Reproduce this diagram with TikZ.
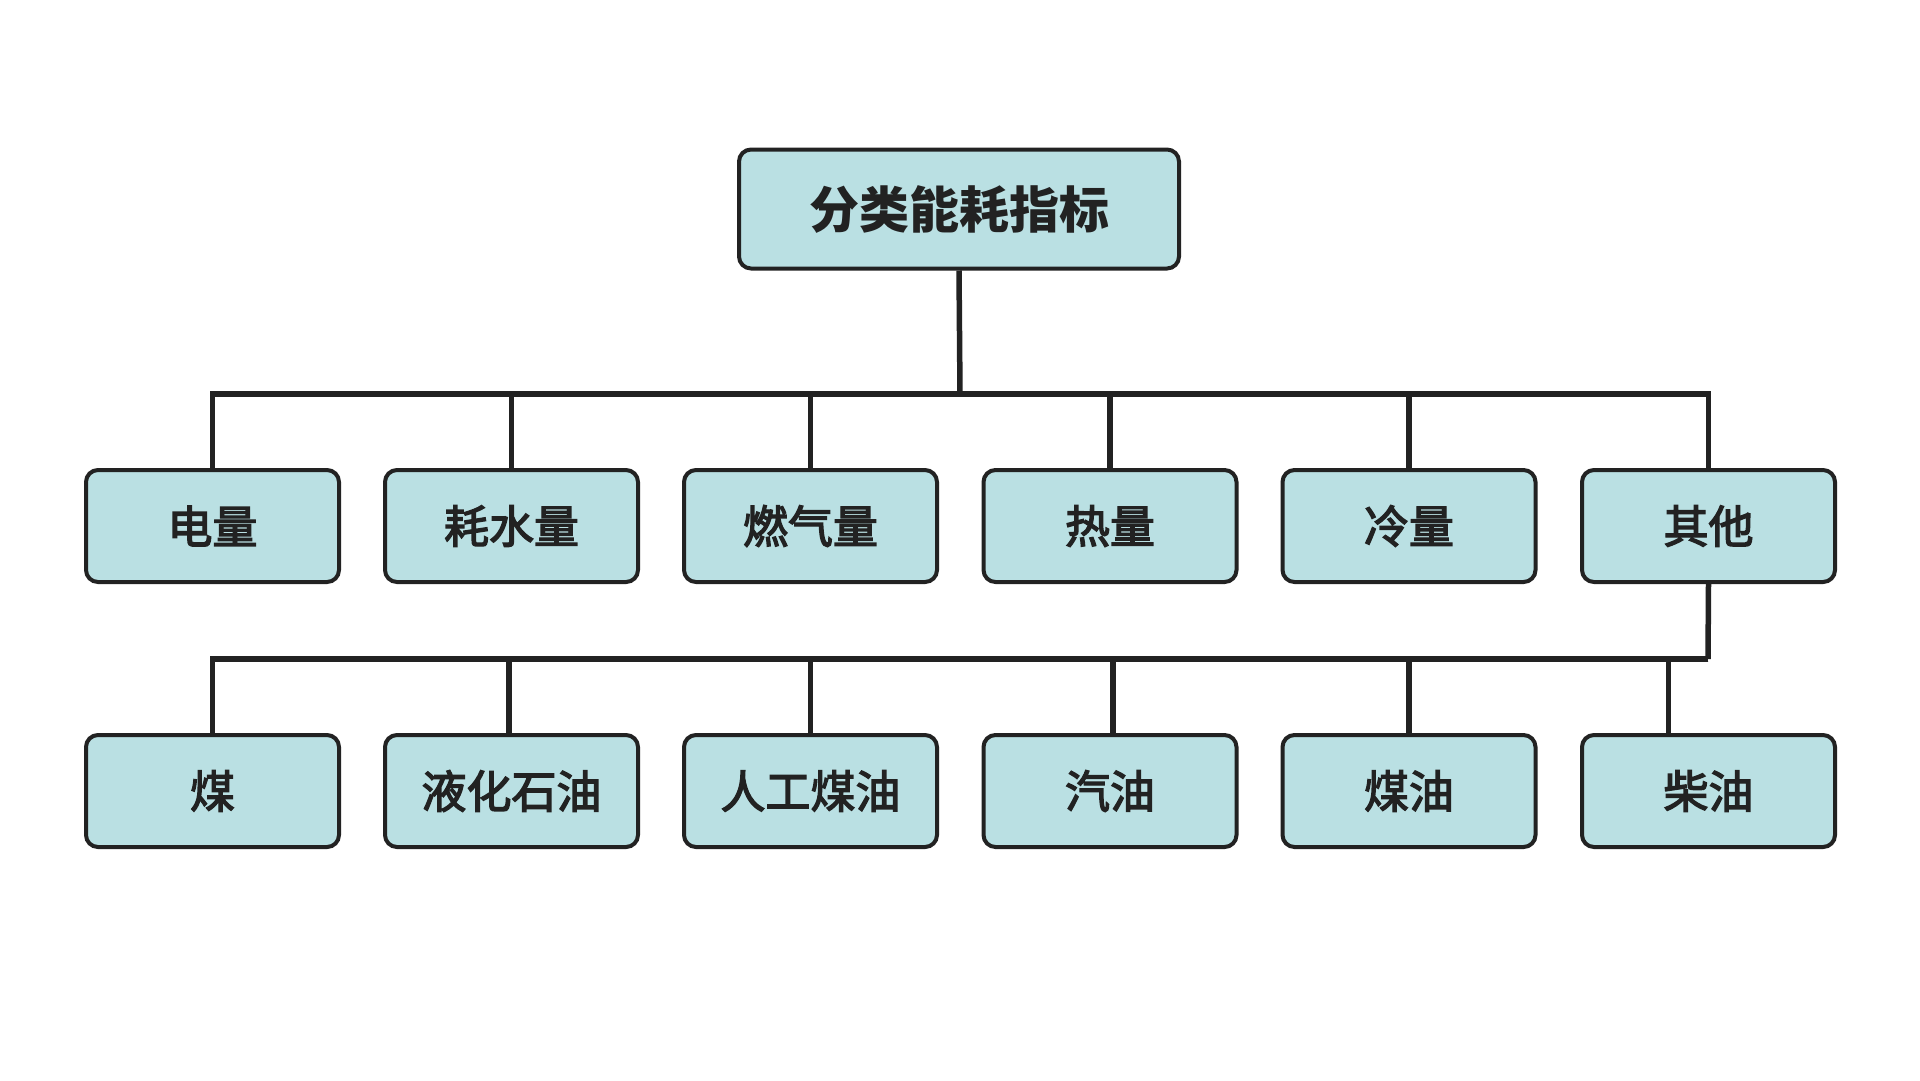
\documentclass[tikz,border=0pt]{standalone}
\usepackage{fontspec}
\newfontfamily\cjk{Noto Sans CJK SC}
\newfontfamily\cjkmid{Noto Sans CJK SC}[FakeBold=3]
\definecolor{boxfill}{HTML}{BAE0E3}
\definecolor{ink}{HTML}{222222}
\tikzset{
  catbox/.style={draw=ink, fill=boxfill, line width=4pt, rounded corners=12pt,
    minimum width=253pt, minimum height=112pt, inner sep=0pt, text=ink,
    font=\cjkmid\fontsize{45}{54}\selectfont},
  titlebox/.style={catbox, minimum width=440pt, minimum height=119pt,
    font=\cjk\bfseries\fontsize{50}{60}\selectfont},
  link/.style={draw=ink, line width=5.5pt}
}
\begin{document}
\begin{tikzpicture}[x=1pt,y=-1pt]
\useasboundingbox (0,0) rectangle (1920,1080);
\fill[white] (0,0) rectangle (1920,1080);
% nodes
\node[titlebox] (top) at (959,209) {分类能耗指标};
\node[catbox] (b1) at (212.5,526) {电量};
\node[catbox] (b2) at (511.5,526) {耗水量};
\node[catbox] (b3) at (810.5,526) {燃气量};
\node[catbox] (b4) at (1110,526) {热量};
\node[catbox] (b5) at (1409,526) {冷量};
\node[catbox] (b6) at (1708.5,526) {其他};
\node[catbox] (c1) at (212.5,791) {煤};
\node[catbox] (c2) at (511.5,791) {液化石油};
\node[catbox] (c3) at (810.5,791) {人工煤油};
\node[catbox] (c4) at (1110,791) {汽油};
\node[catbox] (c5) at (1409,791) {煤油};
\node[catbox] (c6) at (1708.5,791) {柴油};
% connectors level 1
\coordinate (j1) at (960,394);
\draw[link] (top.south) -- (j1);
\foreach \b in {b1,b2,b3,b4,b5,b6} { \draw[link] (j1) -| (\b.north); }
% connectors level 2
\coordinate (j2) at (1708,659);
\draw[link] (b6.south) -- (j2);
\draw[link] (j2) -| (c1.north);
\draw[link] (j2) -| ([xshift=-2.5pt]c2.north);
\draw[link] (j2) -| (c3.north);
\draw[link] (j2) -| ([xshift=3pt]c4.north);
\draw[link] (j2) -| (c5.north);
\draw[link] (j2) -| ([xshift=-40pt]c6.north);
\end{tikzpicture}
\end{document}
